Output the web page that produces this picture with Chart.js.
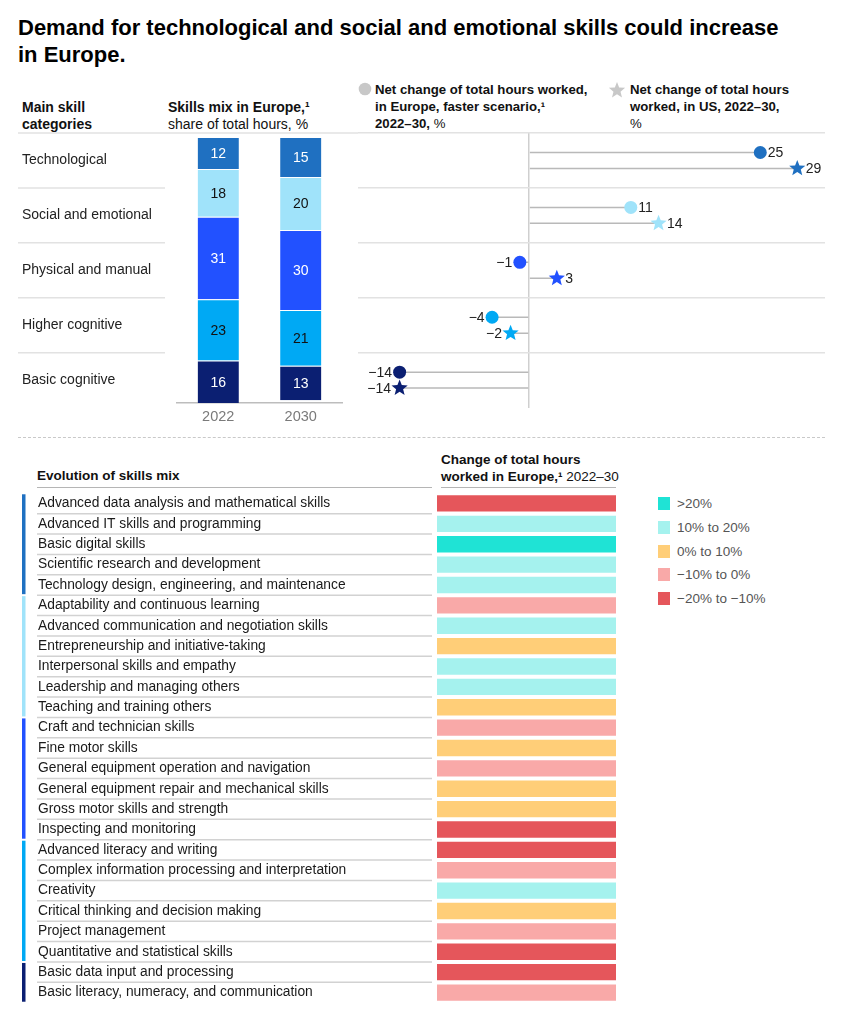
<!DOCTYPE html>
<html><head><meta charset="utf-8">
<script src="https://cdn.jsdelivr.net/npm/chart.js@4.4.1/dist/chart.umd.min.js"></script>
<style>
body{margin:0;background:#fff;font-family:"Liberation Sans",Arial,sans-serif;color:#111;}
#wrap{position:relative;width:843px;height:1009px;overflow:hidden;background:#fff;}
.abs{position:absolute;white-space:nowrap;}
canvas{position:absolute;}
.b{font-weight:bold;}
.n{font-weight:normal;}
.lg{position:absolute;left:658px;font-size:13.5px;color:#555;}
.lg i{position:absolute;left:0;top:0;width:12px;height:13px;}
.lg span{position:absolute;left:19px;top:-1px;white-space:nowrap;}
</style></head>
<body><div id="wrap">
<div class="abs b" style="left:18px;top:14px;font-size:22px;line-height:27px;color:#000">Demand for technological and social and emotional skills could increase<br>in Europe.</div>

<div class="abs b" style="left:22px;top:99px;font-size:14px;line-height:17px">Main skill<br>categories</div>
<div class="abs" style="left:168px;top:99px;font-size:14px;line-height:17px"><span class="b">Skills mix in Europe,¹</span><br>share of total hours, %</div>

<svg class="abs" style="left:358px;top:82px" width="14" height="14"><circle cx="7" cy="7" r="6.3" fill="#c8c8c8"/></svg>
<div class="abs b" style="left:375px;top:81px;font-size:13.2px;line-height:17px">Net change of total hours worked,<br>in Europe, faster scenario,¹<br>2022–30, <span class="n">%</span></div>
<svg class="abs" style="left:608px;top:81px" width="18" height="18"><polygon id="lgstar" fill="#c8c8c8" points=""/></svg>
<div class="abs b" style="left:630px;top:81px;font-size:13.2px;line-height:17px">Net change of total hours<br>worked, in US, 2022–30,<br><span class="n">%</span></div>

<div class="abs" style="left:18px;top:437px;width:807px;height:0;border-top:1px dashed #c9c9c9"></div>

<div class="abs b" style="left:37px;top:467px;font-size:13.5px;line-height:17px">Evolution of skills mix</div>
<div class="abs" style="left:37px;top:487px;width:395px;height:0;border-top:1px solid #b5b5b5"></div>
<div class="abs" style="left:441px;top:451px;font-size:13.5px;line-height:17px"><span class="b">Change of total hours<br>worked in Europe,¹</span> 2022–30</div>
<div class="abs" style="left:441px;top:487px;width:175px;height:0;border-top:1px solid #b5b5b5"></div>

<div id="legend"></div>

<canvas id="dotChart" width="843" height="296" style="left:0;top:120px"></canvas>
<canvas id="mixChart" width="210" height="300" style="left:150px;top:130px"></canvas>
<canvas id="skillChart" width="843" height="526" style="left:0;top:485px"></canvas>
</div>
<script>
// ---------- DATA ----------
const categories = ["Technological","Social and emotional","Physical and manual","Higher cognitive","Basic cognitive"];
const mixYears = ["2022","2030"];
const mix2022 = [12,18,31,23,16];
const mix2030 = [15,20,30,21,13];
const europeChange = [25,11,-1,-4,-14];
const usChange = [29,14,3,-2,-14];

const skills = [
  "Advanced data analysis and mathematical skills",
  "Advanced IT skills and programming",
  "Basic digital skills",
  "Scientific research and development",
  "Technology design, engineering, and maintenance",
  "Adaptability and continuous learning",
  "Advanced communication and negotiation skills",
  "Entrepreneurship and initiative-taking",
  "Interpersonal skills and empathy",
  "Leadership and managing others",
  "Teaching and training others",
  "Craft and technician skills",
  "Fine motor skills",
  "General equipment operation and navigation",
  "General equipment repair and mechanical skills",
  "Gross motor skills and strength",
  "Inspecting and monitoring",
  "Advanced literacy and writing",
  "Complex information processing and interpretation",
  "Creativity",
  "Critical thinking and decision making",
  "Project management",
  "Quantitative and statistical skills",
  "Basic data input and processing",
  "Basic literacy, numeracy, and communication"
];
const skillCategory = [
  "Technological","Technological","Technological","Technological","Technological",
  "Social and emotional","Social and emotional","Social and emotional","Social and emotional","Social and emotional","Social and emotional",
  "Physical and manual","Physical and manual","Physical and manual","Physical and manual","Physical and manual","Physical and manual",
  "Higher cognitive","Higher cognitive","Higher cognitive","Higher cognitive","Higher cognitive","Higher cognitive",
  "Basic cognitive","Basic cognitive"
];
const bucketLabels = [">20%","10% to 20%","0% to 10%","−10% to 0%","−20% to −10%"];
const skillBucket = [
  "−20% to −10%","10% to 20%",">20%","10% to 20%","10% to 20%",
  "−10% to 0%","10% to 20%","0% to 10%","10% to 20%","10% to 20%","0% to 10%",
  "−10% to 0%","0% to 10%","−10% to 0%","0% to 10%","0% to 10%","−20% to −10%",
  "−20% to −10%","−10% to 0%","10% to 20%","0% to 10%","−10% to 0%","−20% to −10%",
  "−20% to −10%","−10% to 0%"
];

// ---------- STYLE ----------
const categoryColors = ["#1F70C1","#A0E3FA","#2251FF","#00A9F4","#0B1F72"];
const segTextColors = ["#fff","#111","#fff","#111","#fff"];
const bucketColors = ["#1FE3D5","#A5F2EE","#FFCE78","#F9A9A8","#E5565B"];
const FONT = '"Liberation Sans", Arial, sans-serif';
const fmt = v => (v < 0 ? "\u2212" + Math.abs(v) : String(v));

function starPath(ctx, x, y, R, r) {
  ctx.beginPath();
  for (let k = 0; k < 10; k++) {
    const a = -Math.PI / 2 + k * Math.PI / 5;
    const rad = k % 2 ? r : R;
    ctx.lineTo(x + rad * Math.cos(a), y + rad * Math.sin(a));
  }
  ctx.closePath();
}
(function(){
  const pts=[];for(let k=0;k<10;k++){const a=-Math.PI/2+k*Math.PI/5;const rad=k%2?3.7:8.5;pts.push((9+rad*Math.cos(a)).toFixed(2)+","+(9.5+rad*Math.sin(a)).toFixed(2));}
  document.getElementById("lgstar").setAttribute("points",pts.join(" "));
})();

(function(){
  const lg = document.getElementById("legend");
  const ys = [497, 521, 545, 568, 592];
  bucketLabels.forEach((b, i) => {
    const d = document.createElement("div");
    d.className = "lg"; d.style.top = ys[i] + "px";
    d.innerHTML = '<i style="background:' + bucketColors[i] + '"></i><span>' + b + '</span>';
    lg.appendChild(d);
  });
})();

Chart.defaults.font.family = FONT;
Chart.defaults.animation = false;
Chart.defaults.responsive = false;
Chart.defaults.devicePixelRatio = 1;
Chart.defaults.plugins.legend.display = false;
Chart.defaults.plugins.tooltip.enabled = false;

// ---------- DOT / LOLLIPOP CHART ----------
const dotPlugin = {
  id: "dots",
  beforeDatasetsDraw(chart) {
    const ctx = chart.ctx, ys = chart.scales.y;
    const step = ys.getPixelForValue(1) - ys.getPixelForValue(0);
    ctx.save();
    ctx.strokeStyle = "#e2e2e2"; ctx.lineWidth = 1.5;
    for (let i = 0; i < categories.length; i++) {
      const y = ys.getPixelForValue(i) - step / 2;
      ctx.beginPath(); ctx.moveTo(18, y); ctx.lineTo(i === 0 ? chart.chartArea.left : 165, y); ctx.stroke();
    }
    ctx.restore();
  },
  afterDatasetsDraw(chart) {
    const ctx = chart.ctx;
    chart.data.datasets.forEach((ds, di) => {
      const meta = chart.getDatasetMeta(di);
      meta.data.forEach((el, i) => {
        const v = ds.data[i];
        const x = el.x, y = el.y;
        ctx.save();
        ctx.fillStyle = categoryColors[i];
        let off;
        if (ds.marker === "circle") { ctx.beginPath(); ctx.arc(x, y, 6.5, 0, Math.PI * 2); ctx.fill(); off = 7.5; }
        else { starPath(ctx, x, y, 8.5, 3.7); ctx.fill(); off = 8.5; }
        ctx.fillStyle = "#222"; ctx.font = "14px " + FONT; ctx.textBaseline = "middle";
        if (v >= 0) { ctx.textAlign = "left"; ctx.fillText(fmt(v), x + off, y + 1); }
        else { ctx.textAlign = "right"; ctx.fillText(fmt(v), x - off, y + 1); }
        ctx.restore();
      });
    });
  }
};

new Chart(document.getElementById("dotChart"), {
  type: "bar",
  data: {
    labels: categories,
    datasets: [
      { label: "Europe", marker: "circle", data: europeChange, backgroundColor: "#b9b9b9", maxBarThickness: 1.5 },
      { label: "US", marker: "star", data: usChange, backgroundColor: "#b9b9b9", maxBarThickness: 1.5 }
    ]
  },
  options: {
    indexAxis: "y",
    layout: { padding: { left: 22, right: 18, top: 13, bottom: 3 } },
    datasets: { bar: { categoryPercentage: 0.58, barPercentage: 1 } },
    scales: {
      x: {
        type: "linear", min: -18.5, max: 32,
        ticks: { display: false, stepSize: 10 },
        border: { display: false },
        grid: { drawTicks: false, lineWidth: 1.5, color: c => (c.type === "tick" && c.tick && c.tick.value === 0 ? "#cfcfcf" : "rgba(0,0,0,0)") },
        afterFit: s => { s.height = 0; }
      },
      y: {
        type: "category",
        offset: true,
        border: { display: false },
        grid: { offset: true, drawTicks: false, lineWidth: 1.5, color: c => (c.type === "tick" ? "#e2e2e2" : "rgba(0,0,0,0)") },
        ticks: { crossAlign: "far", color: "#222", font: { size: 14 }, padding: 0 },
        afterFit: s => { s.width = 336; }
      }
    }
  },
  plugins: [dotPlugin]
});

// ---------- STACKED MIX CHART ----------
const segLabelPlugin = {
  id: "segLabels",
  afterDatasetsDraw(chart) {
    const ctx = chart.ctx;
    chart.data.datasets.forEach((ds, di) => {
      chart.getDatasetMeta(di).data.forEach((el, i) => {
        ctx.save();
        ctx.fillStyle = segTextColors[di];
        ctx.font = "14px " + FONT; ctx.textAlign = "center"; ctx.textBaseline = "middle";
        ctx.fillText(String(ds.data[i]), el.x, (el.y + el.base) / 2 + 1);
        ctx.restore();
      });
    });
  }
};
new Chart(document.getElementById("mixChart"), {
  type: "bar",
  data: {
    labels: mixYears,
    datasets: categories.map((c, i) => ({
      label: c, data: [mix2022[i], mix2030[i]],
      backgroundColor: categoryColors[i], borderColor: "#ffffff",
      borderWidth: { top: 1, bottom: 0, left: 0, right: 0 }, borderSkipped: false
    }))
  },
  options: {
    layout: { padding: { left: 27, right: 18, top: 7, bottom: 0 } },
    datasets: { bar: { categoryPercentage: 1, barPercentage: 0.5 } },
    scales: {
      x: {
        stacked: true,
        grid: { display: false, drawTicks: false },
        border: { display: true, color: "#bdbdbd", width: 1.5 },
        ticks: { color: "#7a7a7a", font: { size: 14.5 }, padding: 5 },
        afterFit: s => { s.height = 27; }
      },
      y: { stacked: true, display: false, min: 0, max: 100, reverse: true }
    }
  },
  plugins: [segLabelPlugin]
});

// ---------- SKILL LIST CHART ----------
const skillPlugin = {
  id: "skillRules",
  afterDatasetsDraw(chart) {
    const ctx = chart.ctx, ys = chart.scales.y;
    const step = ys.getPixelForValue(1) - ys.getPixelForValue(0);
    ctx.save();
    ctx.strokeStyle = "#d2d2d2"; ctx.lineWidth = 1.5;
    for (let i = 0; i < skills.length - 1; i++) {
      const y = ys.getPixelForValue(i) + step / 2;
      ctx.beginPath(); ctx.moveTo(37, y); ctx.lineTo(432, y); ctx.stroke();
    }
    let start = 0;
    for (let i = 1; i <= skills.length; i++) {
      if (i === skills.length || skillCategory[i] !== skillCategory[start]) {
        const y0 = ys.getPixelForValue(start) - step / 2 + 1;
        const y1 = ys.getPixelForValue(i - 1) + step / 2 - 1;
        ctx.fillStyle = categoryColors[categories.indexOf(skillCategory[start])];
        ctx.fillRect(22, y0, 3.5, y1 - y0);
        start = i;
      }
    }
    ctx.restore();
  }
};
new Chart(document.getElementById("skillChart"), {
  type: "bar",
  data: {
    labels: skills,
    datasets: [{
      label: "Change of total hours",
      data: skills.map(() => 1),
      backgroundColor: skillBucket.map(b => bucketColors[bucketLabels.indexOf(b)])
    }]
  },
  options: {
    indexAxis: "y",
    layout: { padding: { left: 38, right: 227, top: 3, bottom: 3 } },
    datasets: { bar: { categoryPercentage: 1, barPercentage: 0.8 } },
    scales: {
      x: { min: 0, max: 1, display: false },
      y: {
        grid: { display: false, drawTicks: false },
        border: { display: false },
        ticks: { crossAlign: "far", color: "#1a1a1a", font: { size: 13.8 }, padding: 0, autoSkip: false },
        afterFit: s => { s.width = 399; }
      }
    }
  },
  plugins: [skillPlugin]
});
</script>
</body></html>
